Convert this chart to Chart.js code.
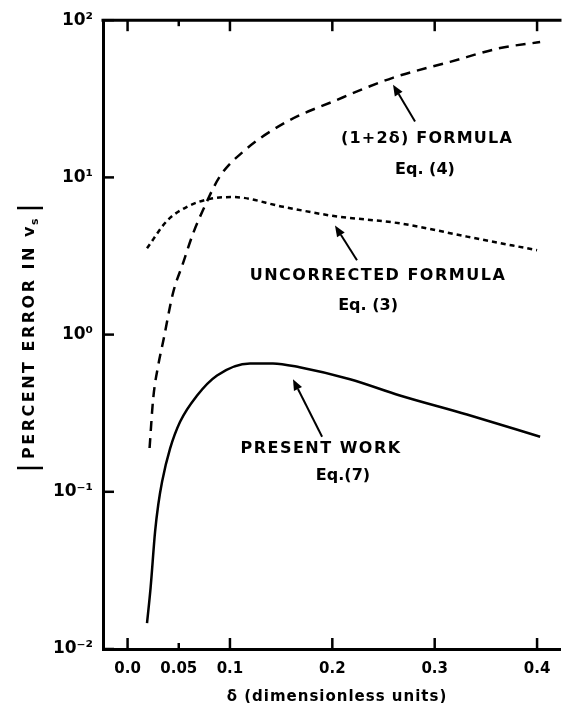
<!DOCTYPE html>
<html>
<head>
<meta charset="utf-8">
<script src="https://cdn.jsdelivr.net/npm/chart.js@4.4.0/dist/chart.umd.min.js"></script>
<style>
html, body { margin: 0; padding: 0; background: #fff; }
#wrap { width: 573px; height: 703px; position: relative; }
</style>
</head>
<body>
<div id="wrap"><canvas id="chart"></canvas></div>
<script>
// values: delta vs |percent error in v_s|
const formula4X = [0.0215, 0.025, 0.030, 0.035, 0.0444, 0.0542, 0.064, 0.0737, 0.09, 0.113, 0.156, 0.2007, 0.259, 0.315, 0.364, 0.403];
const formula4Y = [0.19, 0.39, 0.64, 0.92, 1.84, 2.85, 4.4, 6.2, 10.1, 14.6, 22.7, 30.4, 43, 54.3, 66.5, 72.6];

const formula3X = [0.019, 0.0386, 0.058, 0.0806, 0.103, 0.152, 0.2, 0.266, 0.3315, 0.40];
const formula3Y = [3.54, 5.3, 6.5, 7.3, 7.5, 6.5, 5.7, 5.1, 4.2, 3.44];

const presentX = [0.019, 0.0225, 0.0269, 0.030, 0.0337, 0.0415, 0.0513, 0.0679, 0.0874, 0.1196, 0.142, 0.168, 0.2173, 0.266, 0.3315, 0.403];
const presentY = [0.0146, 0.0246, 0.056, 0.083, 0.116, 0.188, 0.279, 0.41, 0.55, 0.656, 0.656, 0.62, 0.52, 0.41, 0.31, 0.224];

const xTicks = [0, 0.05, 0.1, 0.2, 0.3, 0.4];
const xTickLabels = ['0.0', '0.05', '0.1', '0.2', '0.3', '0.4'];
const yTicks = [0.01, 0.1, 1, 10, 100];
const yTickLabels = ['10⁻²', '10⁻¹', '10⁰', '10¹', '10²'];

// labels and arrows, placed in data units
const labels = [
    { text: '(1+2δ) FORMULA', x: 0.2925, y: 17.5, spacing: 1.2 },
    { text: 'Eq. (4)', x: 0.2905, y: 11.2, spacing: 0 },
    { text: 'UNCORRECTED FORMULA', x: 0.2446, y: 2.36, spacing: 1.5 },
    { text: 'Eq. (3)', x: 0.2349, y: 1.52, spacing: 0 },
    { text: 'PRESENT WORK', x: 0.189, y: 0.188, spacing: 1.5 },
    { text: 'Eq.(7)', x: 0.2104, y: 0.127, spacing: 0 },
];
const arrows = [
    { from: [0.2808, 22.7], to: [0.2593, 38.9] },
    { from: [0.2241, 2.97], to: [0.2026, 4.94] },
    { from: [0.19, 0.224], to: [0.1616, 0.52] },
];

const FONT = '"DejaVu Sans", sans-serif';
Chart.defaults.font.family = FONT;
Chart.defaults.font.weight = 'bold';
Chart.defaults.color = '#000';

function pts(xs, ys) {
    return xs.map((x, i) => ({ x: x, y: ys[i] }));
}

// inward ticks, top frame line, labels, arrows, axis titles
const decorations = {
    id: 'decorations',
    afterDraw(chart) {
        const ctx = chart.ctx;
        const area = chart.chartArea;
        const sx = chart.scales.x;
        const sy = chart.scales.y;
        ctx.save();
        ctx.setLineDash([]);
        ctx.strokeStyle = '#000';
        ctx.fillStyle = '#000';
        ctx.lineWidth = 3;
        ctx.lineCap = 'square';
        ctx.beginPath();
        ctx.moveTo(area.left, area.top);
        ctx.lineTo(area.right, area.top);
        ctx.stroke();

        ctx.lineWidth = 2.5;
        ctx.lineCap = 'butt';
        xTicks.forEach(v => {
            const px = sx.getPixelForValue(v);
            const len = v === 0.05 ? 6 : 11;
            ctx.beginPath();
            ctx.moveTo(px, area.bottom);
            ctx.lineTo(px, area.bottom - len);
            ctx.stroke();
            ctx.beginPath();
            ctx.moveTo(px, area.top);
            ctx.lineTo(px, area.top + len);
            ctx.stroke();
        });
        yTicks.forEach(v => {
            const py = sy.getPixelForValue(v);
            ctx.beginPath();
            ctx.moveTo(area.left, py);
            ctx.lineTo(area.left + 11, py);
            ctx.stroke();
        });

        // annotations
        ctx.font = 'bold 16px ' + FONT;
        ctx.textAlign = 'center';
        ctx.textBaseline = 'middle';
        labels.forEach(l => {
            ctx.letterSpacing = l.spacing + 'px';
            ctx.fillText(l.text, sx.getPixelForValue(l.x), sy.getPixelForValue(l.y));
        });
        ctx.letterSpacing = '0px';

        ctx.lineWidth = 2;
        arrows.forEach(a => {
            const x0 = sx.getPixelForValue(a.from[0]), y0 = sy.getPixelForValue(a.from[1]);
            const x1 = sx.getPixelForValue(a.to[0]), y1 = sy.getPixelForValue(a.to[1]);
            const ang = Math.atan2(y1 - y0, x1 - x0);
            const hl = 11, hw = 4.5;
            const bx = x1 - hl * Math.cos(ang), by = y1 - hl * Math.sin(ang);
            ctx.beginPath();
            ctx.moveTo(x0, y0);
            ctx.lineTo(bx, by);
            ctx.stroke();
            ctx.beginPath();
            ctx.moveTo(x1, y1);
            ctx.lineTo(bx + hw * Math.sin(ang), by - hw * Math.cos(ang));
            ctx.lineTo(bx - hw * Math.sin(ang), by + hw * Math.cos(ang));
            ctx.closePath();
            ctx.fill();
        });

        // x title
        ctx.font = 'bold 15px ' + FONT;
        ctx.letterSpacing = '1px';
        ctx.textAlign = 'center';
        ctx.textBaseline = 'middle';
        ctx.fillText('δ (dimensionless units)', 337, 697);

        // y title, rotated, with abs bars and subscript s
        ctx.translate(30, 338);
        ctx.rotate(-Math.PI / 2);
        ctx.font = 'bold 16px ' + FONT;
        ctx.letterSpacing = '2.5px';
        const main = 'PERCENT ERROR IN v';
        const wMain = ctx.measureText(main).width;
        ctx.font = 'bold 11px ' + FONT;
        const wSub = ctx.measureText('s').width;
        const total = wMain + wSub + 16;
        let cx = -total / 2;
        ctx.lineWidth = 2.5;
        ctx.beginPath();
        ctx.moveTo(cx, -13);
        ctx.lineTo(cx, 13);
        ctx.stroke();
        cx += 9;
        ctx.textAlign = 'left';
        ctx.font = 'bold 16px ' + FONT;
        ctx.fillText(main, cx, 0);
        cx += wMain;
        ctx.font = 'bold 11px ' + FONT;
        ctx.fillText('s', cx - 1, 5);
        cx += wSub + 7;
        ctx.beginPath();
        ctx.moveTo(cx, -13);
        ctx.lineTo(cx, 13);
        ctx.stroke();
        ctx.restore();
    }
};

new Chart(document.getElementById('chart'), {
    type: 'line',
    data: {
        datasets: [
            {
                label: '(1+2δ) formula, Eq. (4)',
                data: pts(formula4X, formula4Y),
                borderColor: '#000',
                borderWidth: 2.5,
                borderDash: [10, 7],
                pointRadius: 0,
                cubicInterpolationMode: 'monotone',
            },
            {
                label: 'Uncorrected formula, Eq. (3)',
                data: pts(formula3X, formula3Y),
                borderColor: '#000',
                borderWidth: 2.5,
                borderDash: [5, 4],
                pointRadius: 0,
                cubicInterpolationMode: 'monotone',
            },
            {
                label: 'Present work, Eq. (7)',
                data: pts(presentX, presentY),
                borderColor: '#000',
                borderWidth: 2.5,
                pointRadius: 0,
                cubicInterpolationMode: 'monotone',
            },
        ]
    },
    options: {
        responsive: true,
        maintainAspectRatio: false,
        animation: false,
        layout: { padding: { left: 0, right: 13, top: 15, bottom: 0 } },
        plugins: {
            legend: { display: false },
            tooltip: { enabled: false }
        },
        scales: {
            x: {
                type: 'linear',
                min: -0.024,
                max: 0.4224,
                afterBuildTicks: scale => { scale.ticks = xTicks.map(v => ({ value: v })); },
                afterFit: scale => { scale.height = 54; },
                ticks: {
                    autoSkip: false,
                    maxRotation: 0,
                    padding: 11,
                    font: { size: 15, weight: 'bold' },
                    callback: (v) => xTickLabels[xTicks.indexOf(v)]
                },
                grid: { display: false, drawTicks: false },
                border: { display: true, color: '#000', width: 3 }
            },
            y: {
                type: 'logarithmic',
                min: 0.01,
                max: 100,
                afterBuildTicks: scale => { scale.ticks = yTicks.map(v => ({ value: v })); },
                afterFit: scale => { scale.width = 103; },
                ticks: {
                    autoSkip: false,
                    padding: 10,
                    font: { size: 17, weight: 'bold' },
                    callback: (v) => yTickLabels[yTicks.indexOf(v)]
                },
                grid: { display: false, drawTicks: false },
                border: { display: true, color: '#000', width: 3 }
            }
        }
    },
    plugins: [decorations]
});
</script>
</body>
</html>
